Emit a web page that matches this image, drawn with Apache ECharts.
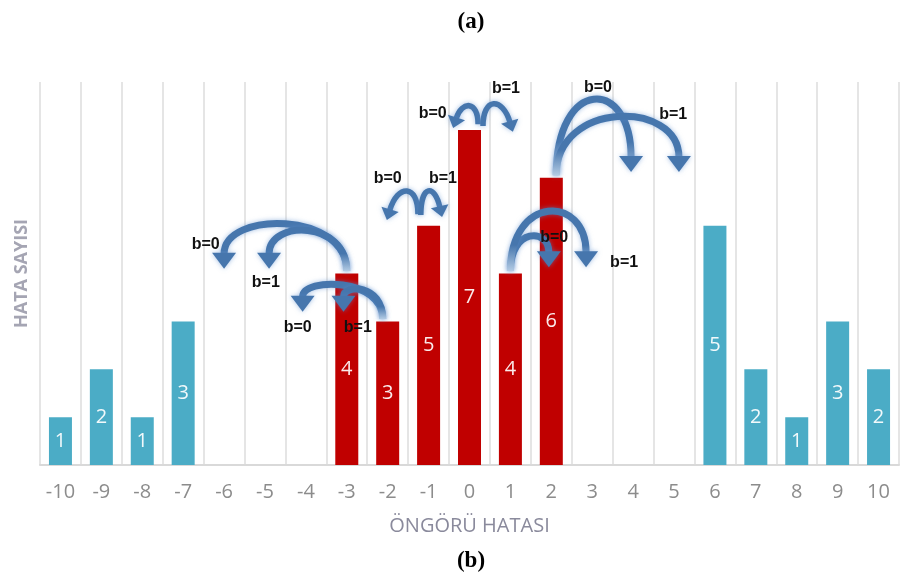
<!DOCTYPE html>
<html><head><meta charset="utf-8">
<script src="https://cdn.jsdelivr.net/npm/echarts@6/dist/echarts.min.js"></script>
<style>html,body{margin:0;padding:0;background:#fff}#c{width:904px;height:580px}</style>
</head><body><div id="c"></div>
<script>
const categories = ['-10','-9','-8','-7','-6','-5','-4','-3','-2','-1','0','1','2','3','4','5','6','7','8','9','10'];
const errorCounts = [1,2,1,3,0,0,0,4,3,5,7,4,6,0,0,0,5,2,1,3,2];
const highlightCats = ['-3','-2','-1','0','1','2'];

// Annotation arrows in data space: [category index, value]
const arrowStarts = [[7.0,4.05],[7.0,4.05],[7.88,3.05],[7.88,3.05],[8.74,5.24],[8.81,5.22],[10.21,7.12],[10.33,7.08],[11.0,4.05],[11.0,4.05],[12.12,6.05],[12.12,6.05]];
const arrowEnds   = [[4.0,4.1],[5.1,4.1],[5.92,3.2],[6.92,3.2],[7.98,5.12],[9.33,5.18],[9.6,7.04],[11.06,6.96],[11.94,4.13],[12.85,4.13],[13.95,6.12],[15.12,6.12]];
const arrowPeaks  = [5.0,4.86,3.72,3.62,5.70,5.70,7.48,7.52,4.74,5.26,7.6,7.24];
const arrowSmall  = [false,false,false,false,true,true,true,true,false,false,false,false];
const arrowLabels = ['b=0','b=1','b=0','b=1','b=0','b=1','b=0','b=1','b=0','b=1','b=0','b=1'];
const labelPositions = [[3.55,4.6],[5.02,3.82],[5.8,2.88],[7.27,2.88],[8.0,5.99],[9.35,5.99],[9.1,7.35],[10.89,7.87],[12.07,4.76],[13.78,4.22],[13.14,7.89],[14.98,7.31]];

const chart = echarts.init(document.getElementById('c'));
chart.setOption({
  animation:false,
  title:[
    {text:'(a)', left:466, top:6, textAlign:'center', textStyle:{fontFamily:'Liberation Serif', fontWeight:'bold', fontSize:23, color:'#000'}},
    {text:'(b)', left:466, top:545, textAlign:'center', textStyle:{fontFamily:'Liberation Serif', fontWeight:'bold', fontSize:23, color:'#000'}}
  ],
  grid:{left:40, right:5, top:82, bottom:115},
  xAxis:{
    type:'category', data:categories,
    name:'ÖNGÖRÜ HATASI', nameLocation:'middle', nameGap:51,
    nameTextStyle:{fontFamily:'Open Sans', fontSize:20, color:'#8a8a9c'},
    axisLine:{lineStyle:{color:'#d9d9d9', width:2}},
    axisTick:{show:false},
    axisLabel:{fontFamily:'Open Sans', fontSize:20, color:'#8c8c8c', margin:17, interval:0},
    splitLine:{show:true, interval:0, lineStyle:{color:'#dcdcdc', width:1.5}}
  },
  yAxis:{
    type:'value', min:0, max:8, interval:1,
    name:'HATA SAYISI', nameLocation:'middle', nameGap:9,
    nameTextStyle:{fontFamily:'Open Sans', fontSize:18, fontWeight:'bold', color:'#a5a5b3'},
    axisLine:{show:false}, axisTick:{show:false}, axisLabel:{show:false},
    splitLine:{show:false}
  },
  series:[{
    type:'bar', barWidth:23,
    data:errorCounts.map((v,i)=>({value:v, itemStyle:{color: highlightCats.includes(categories[i]) ? '#c00000' : '#4bacc6'}})),
    label:{show:true, position:'inside', fontFamily:'Open Sans', fontSize:20, color:'rgba(255,255,255,0.92)',
      formatter:p=>p.value>0?String(p.value):''}
  }]
});

function px(pt){
  const x0 = chart.convertToPixel({xAxisIndex:0}, 0);
  const x1 = chart.convertToPixel({xAxisIndex:0}, 1);
  return [x0 + pt[0]*(x1-x0), chart.convertToPixel({yAxisIndex:0}, pt[1])];
}
const graphics = [];
for (let i=0;i<arrowStarts.length;i++){
  const s = px(arrowStarts[i]), t = px(arrowEnds[i]);
  const peakY = chart.convertToPixel({yAxisIndex:0}, arrowPeaks[i]);
  const yc = (peakY - (s[1]+t[1])/8)/0.75;
  const small = arrowSmall[i];
  const k = small ? 0.35 : 0.0;
  const cp1 = [s[0], yc];
  const cp2 = [t[0] + (s[0]-t[0])*k, yc];
  let dx = t[0]-cp2[0], dy = t[1]-cp2[1];
  const L = Math.hypot(dx,dy); dx/=L; dy/=L;
  const len = small?11:16, hw = small?9:12;
  const b = [t[0]-dx*len, t[1]-dy*len];
  const nx = -dy, ny = dx;
  const col = '#4676ad';
  const stroke = small ? col : new echarts.graphic.LinearGradient(s[0], s[1], s[0], peakY, [
    {offset:0, color:'#b3cbe4'}, {offset:0.45, color:col}, {offset:1, color:col}], true);
  graphics.push({type:'bezierCurve', z:100, silent:true,
    shape:{x1:s[0], y1:s[1], cpx1:cp1[0], cpy1:cp1[1], cpx2:cp2[0], cpy2:cp2[1], x2:b[0]+dx, y2:b[1]+dy},
    style:{stroke:stroke, lineWidth: small?5.5:7, fill:null, shadowColor:'rgba(90,140,205,0.55)', shadowBlur:5}});
  graphics.push({type:'polygon', z:101, silent:true,
    shape:{points:[[t[0],t[1]],[b[0]+nx*hw,b[1]+ny*hw],[b[0]-nx*hw,b[1]-ny*hw]]},
    style:{fill:col, shadowColor:'rgba(90,140,205,0.55)', shadowBlur:5}});
  const lp = px(labelPositions[i]);
  graphics.push({type:'text', z:102, silent:true,
    style:{text:arrowLabels[i], x:lp[0], y:lp[1], fill:'#111', font:'bold 16px "Liberation Sans"', align:'center', verticalAlign:'middle',
      shadowColor:'rgba(245,160,50,0.9)', shadowBlur:3}});
}
chart.setOption({graphic:graphics});
</script>
</body></html>
